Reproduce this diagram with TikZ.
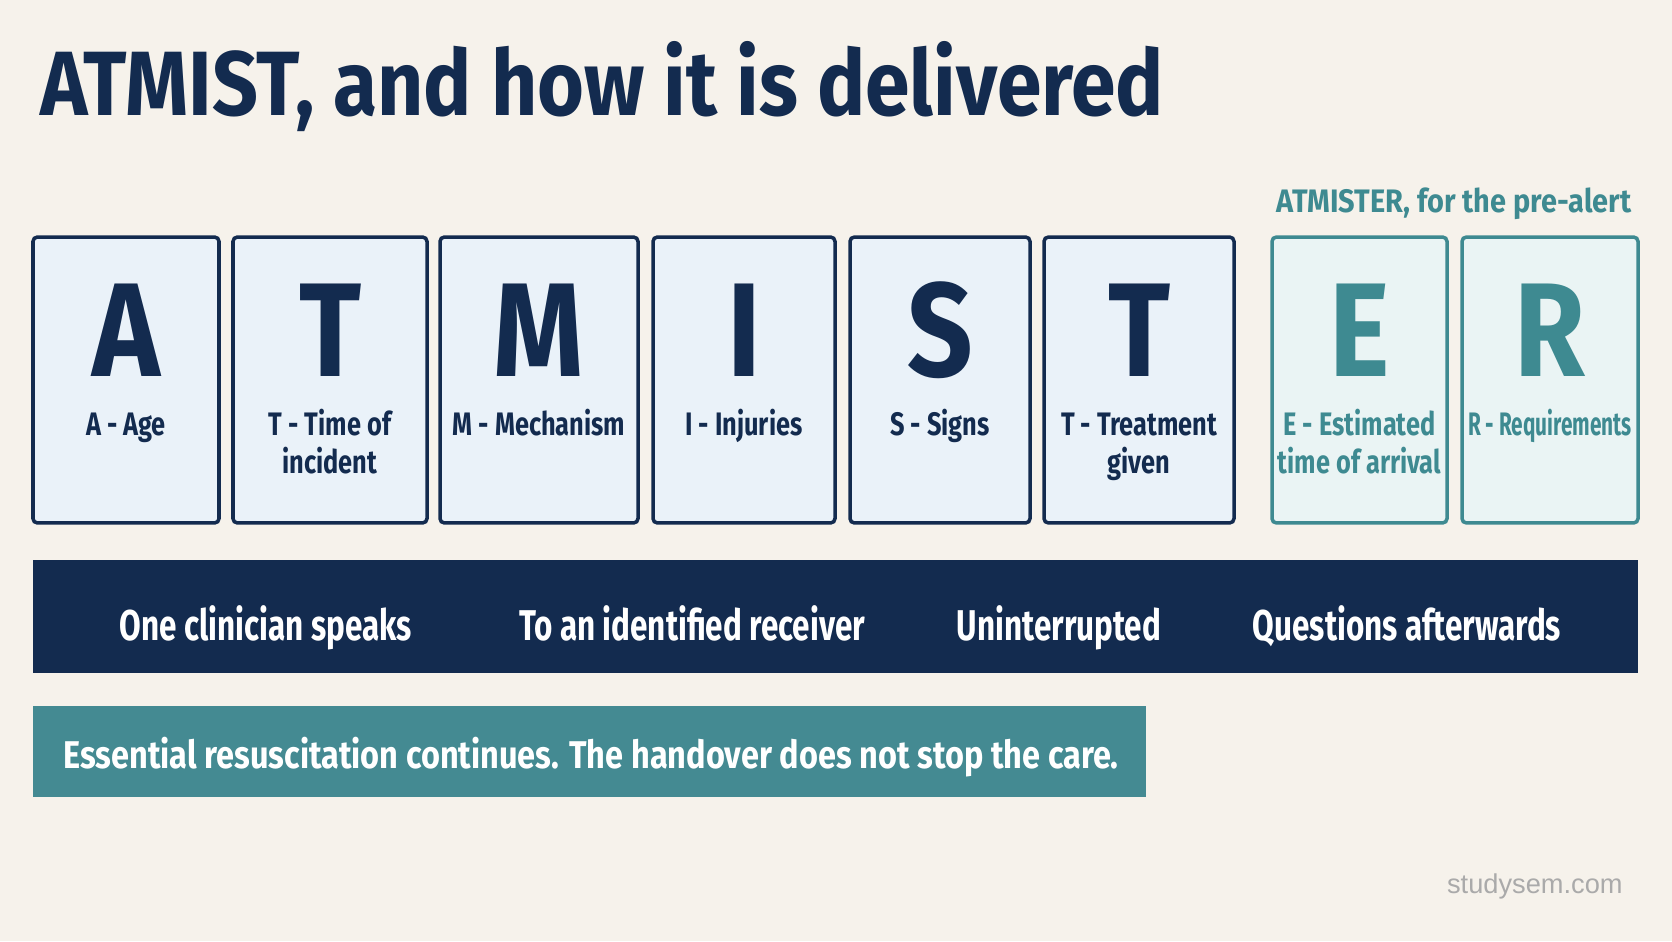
\documentclass[tikz,border=0pt]{standalone}
\usepackage{fontspec}
\setmainfont{Fira Sans}
\newfontfamily\headfont{Fira Sans}[FakeStretch=0.88]
\newfontfamily\letterfont{Fira Sans}[FakeStretch=0.86]
\newfontfamily\labelfont{Fira Sans}[FakeStretch=0.78]
\newfontfamily\narrowfont{Fira Sans}[FakeStretch=0.64]
\newfontfamily\barfont{Fira Sans}[FakeStretch=0.73]
\newfontfamily\notefont{Fira Sans}[FakeStretch=0.84]
\newfontfamily\extfont{Fira Sans}[FakeStretch=0.89]
\newfontfamily\webfont{Liberation Sans}
\usetikzlibrary{calc}
\definecolor{bgcream}{HTML}{F6F2EB}
\definecolor{navy}{HTML}{132B4F}
\definecolor{cardfill}{HTML}{EAF2F9}
\definecolor{tealdk}{HTML}{3E8A91}
\definecolor{tealfill}{HTML}{EAF4F4}
\definecolor{tealbox}{HTML}{448A92}
\definecolor{webgray}{HTML}{AAAAAA}

\begin{document}
\begin{tikzpicture}[x=0.02cm, y=0.02cm,
  card/.style={draw=navy, fill=cardfill, line width=2pt, rounded corners=2.5pt,
    minimum height=5.72cm, inner sep=0pt},
  tcard/.style={card, draw=tealdk, fill=tealfill},
  bigletter/.style={font=\letterfont\bfseries\fontsize{76}{80}\selectfont,
    anchor=base, inner sep=0pt},
  cardlabel/.style={align=center, anchor=base, inner sep=0pt},
  bartext/.style={font=\barfont\bfseries\fontsize{24.5}{28}\selectfont,
    text=white, anchor=base, inner sep=0pt}]

% Background
\fill[bgcream] (0,0) rectangle (1672,941);

% Title
\node[text=navy, font=\headfont\bfseries\fontsize{52}{56}\selectfont,
  anchor=base west, inner sep=0pt] (title) at (40,825)
  {ATMIST, and how it is delivered};

% Extension label over E and R
\node[text=tealdk, font=\extfont\bfseries\fontsize{18.5}{20}\selectfont,
  anchor=base, inner sep=0pt] (ext) at (1454,728)
  {ATMISTER, for the pre-alert};

% Letter cards (\dy drops the anchor for two-line labels)
\foreach \i/\xl/\xr/\ltr/\txt/\dy/\lf/\sty/\clr in {
  1/33/219/A/{A - Age}/0/\labelfont/card/navy,
  2/233/427/T/{T - Time of\\incident}/38/\labelfont/card/navy,
  3/440/638/M/{M - Mechanism}/0/\labelfont/card/navy,
  4/653/835/I/{I - Injuries}/0/\labelfont/card/navy,
  5/850/1030/S/{S - Signs}/0/\labelfont/card/navy,
  6/1044/1234/T/{T - Treatment\\given}/38/\labelfont/card/navy,
  7/1272/1447/E/{E - Estimated\\time of arrival}/38/\labelfont/tcard/tealdk,
  8/1462/1638/R/{R - Requirements}/0/\narrowfont/tcard/tealdk} {
  \node[\sty, minimum width={(\xr-\xl)*0.02cm}] (c\i) at ({(\xl+\xr)/2},561) {};
  \node[bigletter, text=\clr] (l\i) at ($(c\i.center)+(0,4)$) {\ltr};
  \node[cardlabel, text=\clr, font=\lf\bfseries\fontsize{18.5}{21.5}\selectfont]
    (t\i) at ($(c\i.center)+(0,-55.5-\dy)$) {\txt};
}

% Delivery bar
\fill[navy] (33,268) rectangle (1638,381);
\foreach \x/\txt [count=\j] in {266/One clinician speaks,
  692/To an identified receiver, 1059/Uninterrupted,
  1407/Questions afterwards}
  \node[bartext] (b\j) at (\x,301) {\txt};

% Resuscitation note
\fill[tealbox] (33,144) rectangle (1146,235);
\node[text=white, font=\notefont\bfseries\fontsize{22}{26}\selectfont,
  anchor=base west, inner sep=0pt] (note) at (63,173)
  {Essential resuscitation continues. The handover does not stop the care.};

% Site mark
\node[text=webgray, font=\webfont\fontsize{15.5}{18}\selectfont,
  anchor=base east, inner sep=0pt] (site) at (1623,48) {studysem.com};

\end{tikzpicture}
\end{document}
